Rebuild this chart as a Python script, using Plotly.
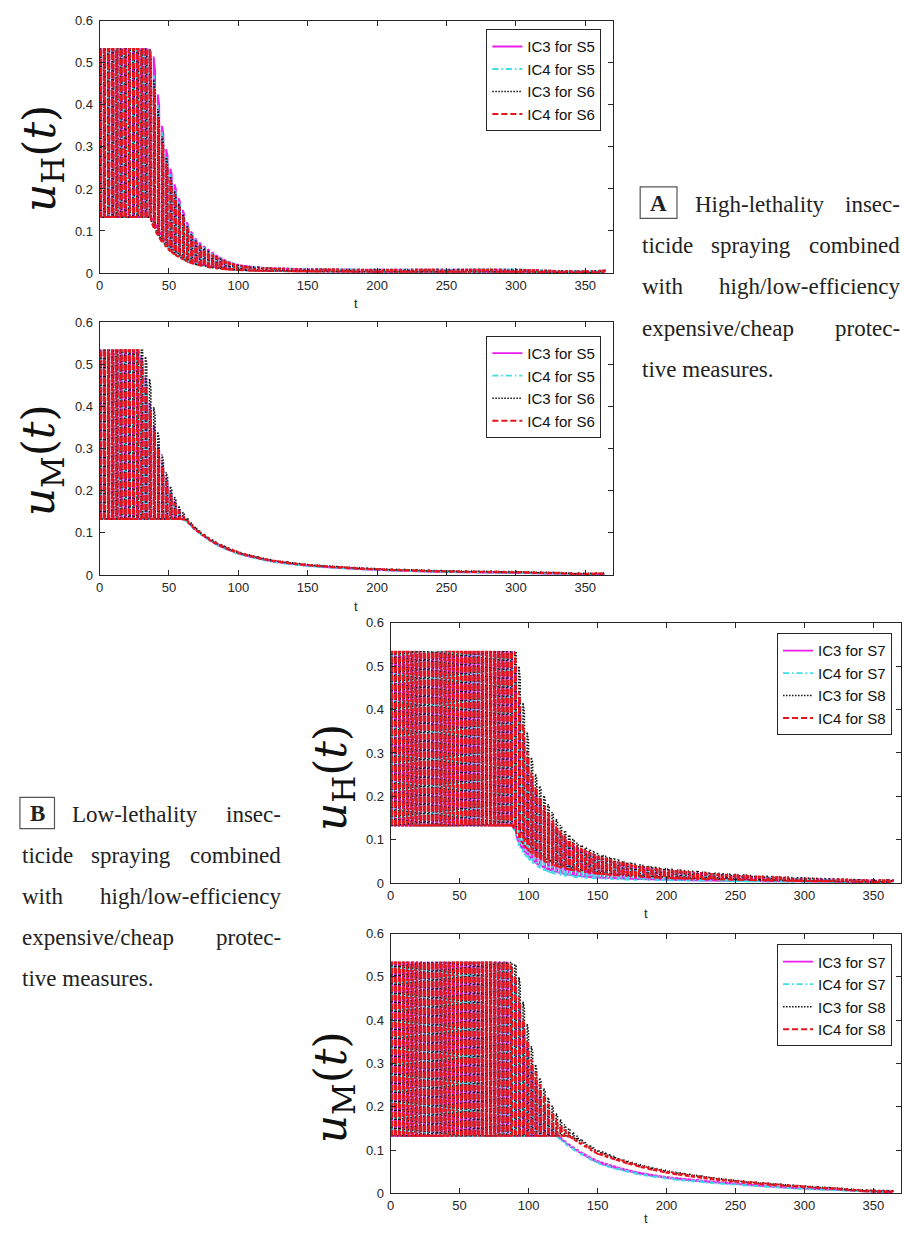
import numpy as np
import plotly.graph_objects as go

# ---------------- values ----------------
T_END = 365.0
PULSE_PERIOD = 3.0
PULSE_ON = 1.0
X_TICKS = [0, 50, 100, 150, 200, 250, 300, 350]
Y_TICKS = [0, 0.1, 0.2, 0.3, 0.4, 0.5, 0.6]
Y_TICK_LABELS = ["0", "0.1", "0.2", "0.3", "0.4", "0.5", "0.6"]

# Panel A-top: u_H(t), S5 / S6  (upper / lower envelope of the pulsed control)
A1_t = [0, 36, 39, 42, 45, 48, 51, 55, 60, 65, 70, 80, 90, 100, 120, 150, 200, 250, 300, 330, 350, 365]
A1_IC3S5_up = [0.533, 0.533, 0.515, 0.425, 0.35, 0.295, 0.248, 0.2, 0.15, 0.105, 0.078, 0.052, 0.031, 0.019, 0.012, 0.009, 0.008, 0.008, 0.008, 0.005, 0.004, 0.006]
A1_IC3S5_lo = [0.133, 0.133, 0.125, 0.105, 0.088, 0.074, 0.062, 0.05, 0.039, 0.03, 0.024, 0.016, 0.011, 0.008, 0.005, 0.004, 0.003, 0.003, 0.003, 0.002, 0.001, 0.002]
A1_IC4S5_up = [0.533, 0.533, 0.47, 0.4, 0.335, 0.28, 0.235, 0.19, 0.143, 0.1, 0.075, 0.048, 0.03, 0.019, 0.012, 0.009, 0.008, 0.008, 0.009, 0.005, 0.004, 0.006]
A1_IC4S5_lo = [0.133, 0.133, 0.115, 0.095, 0.079, 0.066, 0.056, 0.045, 0.035, 0.027, 0.021, 0.014, 0.01, 0.007, 0.005, 0.004, 0.003, 0.003, 0.003, 0.002, 0.001, 0.002]
A1_IC3S6_up = [0.533, 0.533, 0.46, 0.39, 0.325, 0.275, 0.23, 0.185, 0.14, 0.098, 0.073, 0.047, 0.029, 0.018, 0.012, 0.009, 0.008, 0.008, 0.008, 0.005, 0.004, 0.006]
A1_IC3S6_lo = [0.133, 0.133, 0.112, 0.092, 0.077, 0.064, 0.054, 0.044, 0.034, 0.026, 0.02, 0.014, 0.01, 0.007, 0.005, 0.004, 0.003, 0.003, 0.003, 0.002, 0.001, 0.002]
A1_IC4S6_up = [0.533, 0.533, 0.44, 0.37, 0.31, 0.26, 0.22, 0.178, 0.135, 0.095, 0.07, 0.045, 0.028, 0.017, 0.011, 0.009, 0.007, 0.008, 0.008, 0.005, 0.004, 0.006]
A1_IC4S6_lo = [0.133, 0.133, 0.108, 0.089, 0.074, 0.062, 0.052, 0.042, 0.033, 0.025, 0.02, 0.013, 0.009, 0.007, 0.005, 0.004, 0.003, 0.003, 0.003, 0.002, 0.001, 0.002]

# Panel A-bottom: u_M(t), S5 / S6
A2_t = [0, 29, 32, 35, 38, 42, 46, 50, 54, 58, 62, 68, 75, 85, 100, 125, 150, 200, 250, 300, 330, 350, 365]
A2_IC3S5_up = [0.533, 0.533, 0.49, 0.43, 0.37, 0.31, 0.255, 0.21, 0.175, 0.15, 0.134, 0.112, 0.094, 0.073, 0.053, 0.033, 0.023, 0.013, 0.008, 0.006, 0.004, 0.002, 0.003]
A2_IC3S5_lo = [0.133, 0.133, 0.133, 0.133, 0.133, 0.133, 0.133, 0.133, 0.133, 0.133, 0.131, 0.11, 0.092, 0.071, 0.051, 0.032, 0.022, 0.012, 0.007, 0.005, 0.003, 0.002, 0.003]
A2_IC4S5_up = [0.533, 0.533, 0.48, 0.42, 0.36, 0.305, 0.25, 0.205, 0.172, 0.149, 0.133, 0.111, 0.093, 0.072, 0.052, 0.032, 0.022, 0.013, 0.008, 0.006, 0.004, 0.002, 0.003]
A2_IC4S5_lo = [0.133, 0.133, 0.133, 0.133, 0.133, 0.133, 0.133, 0.133, 0.133, 0.133, 0.13, 0.109, 0.091, 0.07, 0.05, 0.031, 0.021, 0.012, 0.007, 0.005, 0.003, 0.002, 0.003]
A2_IC3S6_up = [0.533, 0.533, 0.533, 0.49, 0.42, 0.34, 0.27, 0.22, 0.185, 0.158, 0.14, 0.117, 0.097, 0.076, 0.055, 0.035, 0.025, 0.015, 0.01, 0.008, 0.006, 0.004, 0.005]
A2_IC3S6_lo = [0.133, 0.133, 0.133, 0.133, 0.133, 0.133, 0.133, 0.133, 0.133, 0.133, 0.133, 0.113, 0.094, 0.073, 0.053, 0.034, 0.024, 0.014, 0.009, 0.007, 0.005, 0.003, 0.004]
A2_IC4S6_up = [0.533, 0.533, 0.47, 0.41, 0.355, 0.3, 0.245, 0.2, 0.17, 0.148, 0.134, 0.113, 0.095, 0.074, 0.054, 0.034, 0.024, 0.014, 0.009, 0.007, 0.005, 0.003, 0.004]
A2_IC4S6_lo = [0.133, 0.133, 0.133, 0.133, 0.133, 0.133, 0.133, 0.133, 0.133, 0.133, 0.131, 0.111, 0.093, 0.072, 0.052, 0.033, 0.023, 0.013, 0.008, 0.006, 0.004, 0.002, 0.003]

# Panel B-top: u_H(t), S7 / S8
B1_t = [0, 88, 90, 92, 95, 98, 102, 106, 112, 118, 125, 135, 150, 175, 200, 250, 300, 330, 350, 365]
B1_IC3S7_up = [0.533, 0.533, 0.5, 0.44, 0.365, 0.3, 0.24, 0.2, 0.162, 0.132, 0.106, 0.08, 0.058, 0.039, 0.028, 0.017, 0.01, 0.008, 0.006, 0.006]
B1_IC3S7_lo = [0.133, 0.133, 0.122, 0.1, 0.082, 0.07, 0.056, 0.045, 0.035, 0.028, 0.022, 0.017, 0.013, 0.01, 0.008, 0.005, 0.004, 0.003, 0.002, 0.002]
B1_IC4S7_up = [0.533, 0.533, 0.49, 0.43, 0.355, 0.29, 0.232, 0.193, 0.156, 0.127, 0.102, 0.077, 0.056, 0.038, 0.027, 0.016, 0.01, 0.007, 0.005, 0.006]
B1_IC4S7_lo = [0.133, 0.133, 0.12, 0.093, 0.075, 0.064, 0.05, 0.04, 0.03, 0.023, 0.018, 0.014, 0.011, 0.008, 0.007, 0.005, 0.003, 0.002, 0.002, 0.002]
B1_IC3S8_up = [0.533, 0.533, 0.533, 0.533, 0.44, 0.37, 0.29, 0.24, 0.195, 0.158, 0.125, 0.093, 0.068, 0.045, 0.033, 0.02, 0.012, 0.009, 0.007, 0.008]
B1_IC3S8_lo = [0.133, 0.133, 0.133, 0.13, 0.115, 0.1, 0.085, 0.072, 0.058, 0.048, 0.04, 0.032, 0.025, 0.018, 0.014, 0.009, 0.006, 0.004, 0.003, 0.004]
B1_IC4S8_up = [0.533, 0.533, 0.533, 0.47, 0.39, 0.32, 0.255, 0.212, 0.172, 0.14, 0.112, 0.084, 0.061, 0.041, 0.03, 0.018, 0.011, 0.008, 0.006, 0.007]
B1_IC4S8_lo = [0.133, 0.133, 0.125, 0.11, 0.095, 0.083, 0.07, 0.06, 0.05, 0.042, 0.035, 0.028, 0.022, 0.016, 0.012, 0.008, 0.005, 0.004, 0.003, 0.003]

# Panel B-bottom: u_M(t), S7 / S8
B2_t = [0, 86, 89, 92, 95, 98, 102, 106, 110, 115, 120, 125, 130, 140, 150, 165, 180, 200, 225, 250, 275, 300, 325, 350, 365]
B2_IC3S7_up = [0.533, 0.533, 0.505, 0.455, 0.405, 0.355, 0.295, 0.245, 0.205, 0.168, 0.14, 0.124, 0.112, 0.092, 0.075, 0.06, 0.048, 0.038, 0.03, 0.023, 0.017, 0.012, 0.009, 0.005, 0.004]
B2_IC3S7_lo = [0.133, 0.133, 0.133, 0.133, 0.133, 0.133, 0.133, 0.133, 0.133, 0.133, 0.133, 0.122, 0.109, 0.089, 0.072, 0.057, 0.046, 0.036, 0.028, 0.022, 0.016, 0.011, 0.008, 0.004, 0.003]
B2_IC4S7_up = [0.533, 0.533, 0.5, 0.45, 0.4, 0.35, 0.29, 0.24, 0.2, 0.165, 0.137, 0.121, 0.109, 0.089, 0.072, 0.057, 0.046, 0.036, 0.028, 0.021, 0.016, 0.011, 0.008, 0.004, 0.004]
B2_IC4S7_lo = [0.133, 0.133, 0.133, 0.133, 0.133, 0.133, 0.133, 0.133, 0.133, 0.133, 0.133, 0.119, 0.106, 0.087, 0.07, 0.055, 0.044, 0.034, 0.026, 0.02, 0.015, 0.01, 0.007, 0.004, 0.003]
B2_IC3S8_up = [0.533, 0.533, 0.533, 0.52, 0.46, 0.41, 0.34, 0.285, 0.25, 0.215, 0.185, 0.162, 0.147, 0.12, 0.1, 0.082, 0.067, 0.053, 0.04, 0.03, 0.023, 0.017, 0.012, 0.007, 0.006]
B2_IC3S8_lo = [0.133, 0.133, 0.133, 0.133, 0.133, 0.133, 0.133, 0.133, 0.133, 0.133, 0.133, 0.133, 0.133, 0.117, 0.097, 0.08, 0.065, 0.051, 0.039, 0.029, 0.022, 0.016, 0.011, 0.005, 0.004]
B2_IC4S8_up = [0.533, 0.533, 0.52, 0.47, 0.42, 0.37, 0.31, 0.27, 0.235, 0.2, 0.17, 0.15, 0.136, 0.113, 0.095, 0.078, 0.064, 0.05, 0.038, 0.029, 0.022, 0.016, 0.011, 0.006, 0.005]
B2_IC4S8_lo = [0.133, 0.133, 0.133, 0.133, 0.133, 0.133, 0.133, 0.133, 0.133, 0.133, 0.133, 0.133, 0.131, 0.11, 0.092, 0.076, 0.062, 0.048, 0.036, 0.027, 0.02, 0.015, 0.01, 0.004, 0.003]

LEGEND_A = ["IC3 for S5", "IC4 for S5", "IC3 for S6", "IC4 for S6"]
LEGEND_B = ["IC3 for S7", "IC4 for S7", "IC3 for S8", "IC4 for S8"]

TEXT_A = ["A", "High-lethality", "insec-", "ticide", "spraying", "combined", "with",
          "high/low-efficiency", "expensive/cheap", "protec-", "tive measures."]
TEXT_B = ["B", "Low-lethality", "insec-", "ticide", "spraying", "combined", "with",
          "high/low-efficiency", "expensive/cheap", "protec-", "tive measures."]

# ---------------- styles / geometry ----------------
W, H = 904, 1234
STYLES = [
    dict(color="#ec1cec", width=1.8, dash="solid"),
    dict(color="#3fdbe6", width=1.8, dash="6px,3px,1.5px,3px"),
    dict(color="#111111", width=1.6, dash="1.5px,1.5px"),
    dict(color="#e8141c", width=2.0, dash="6px,3px"),
]
# panel boxes in pixels: (left, right, top, bottom)
PANELS = [
    (96, 611.7, 14, 269.3),
    (96, 611.7, 319, 575),
    (388.3, 901, 623.3, 887),
    (388.3, 901, 938, 1201),
]
AX_COL = "#262626"


def fx(px):
    return px / W


def fy(py):
    return 1 - py / H


def envelope(t, knots, vals):
    return float(np.exp(np.interp(t, knots, np.log(vals))))


def pulse_train(knots, up, lo):
    xs, ys = [], []
    for t0 in np.arange(0.0, T_END + 1e-9, PULSE_PERIOD):
        t1 = min(t0 + PULSE_ON, T_END)
        xs += [t0, t0, t1, t1]
        ys += [envelope(t0, knots, lo), envelope(t0, knots, up),
               envelope(t1, knots, up), envelope(t1, knots, lo)]
    return xs, ys


panel_data = [
    (A1_t, [(A1_IC3S5_up, A1_IC3S5_lo), (A1_IC4S5_up, A1_IC4S5_lo),
            (A1_IC3S6_up, A1_IC3S6_lo), (A1_IC4S6_up, A1_IC4S6_lo)], LEGEND_A),
    (A2_t, [(A2_IC3S5_up, A2_IC3S5_lo), (A2_IC4S5_up, A2_IC4S5_lo),
            (A2_IC3S6_up, A2_IC3S6_lo), (A2_IC4S6_up, A2_IC4S6_lo)], LEGEND_A),
    (B1_t, [(B1_IC3S7_up, B1_IC3S7_lo), (B1_IC4S7_up, B1_IC4S7_lo),
            (B1_IC3S8_up, B1_IC3S8_lo), (B1_IC4S8_up, B1_IC4S8_lo)], LEGEND_B),
    (B2_t, [(B2_IC3S7_up, B2_IC3S7_lo), (B2_IC4S7_up, B2_IC4S7_lo),
            (B2_IC3S8_up, B2_IC3S8_lo), (B2_IC4S8_up, B2_IC4S8_lo)], LEGEND_B),
]

fig = go.Figure()
layout = dict(
    width=W, height=H, autosize=False,
    margin=dict(l=0, r=0, t=0, b=0, pad=0),
    paper_bgcolor="white", plot_bgcolor="white",
    showlegend=True,
)

legend_pos = [(600, 22.5), (600, 333), (892, 634), (892, 949)]

for i, (knots, series, names) in enumerate(panel_data):
    n = i + 1
    xa = "x" if n == 1 else f"x{n}"
    ya = "y" if n == 1 else f"y{n}"
    lg = "legend" if n == 1 else f"legend{n}"
    for (up, lo), name, st in zip(series, names, STYLES):
        xs, ys = pulse_train(knots, up, lo)
        fig.add_trace(go.Scatter(x=xs, y=ys, mode="lines", name=name,
                                 line=st, xaxis=xa, yaxis=ya, legend=lg,
                                 hoverinfo="skip"))
    l, r, t, b = PANELS[i]
    axis_common = dict(showline=True, linecolor=AX_COL, linewidth=1, mirror="ticks",
                       ticks="inside", ticklen=5, tickcolor=AX_COL, tickwidth=1,
                       showgrid=False, zeroline=False,
                       tickfont=dict(family="Liberation Sans, Arial", size=13, color=AX_COL))
    layout["xaxis" if n == 1 else f"xaxis{n}"] = dict(
        domain=[fx(l), fx(r)], anchor=ya, range=[0, 370],
        tickvals=X_TICKS, ticktext=[str(v) for v in X_TICKS], **axis_common)
    layout["yaxis" if n == 1 else f"yaxis{n}"] = dict(
        domain=[fy(b), fy(t)], anchor=xa, range=[0, 0.6],
        tickvals=Y_TICKS, ticktext=Y_TICK_LABELS, ticklabelstandoff=3, **axis_common)
    lx, ly = legend_pos[i]
    layout[lg] = dict(x=fx(lx), y=fy(ly), xanchor="right", yanchor="top",
                      xref="paper", yref="paper",
                      bgcolor="white", bordercolor=AX_COL, borderwidth=1,
                      font=dict(family="Liberation Sans, Arial", size=15, color="#111111"),
                      tracegroupgap=0, itemwidth=30)

fig.update_layout(**layout)

ann = []
# axis titles
ylabels = ["<i>u</i><sub>H</sub>(<i>t</i>)", "<i>u</i><sub>M</sub>(<i>t</i>)",
           "<i>u</i><sub>H</sub>(<i>t</i>)", "<i>u</i><sub>M</sub>(<i>t</i>)"]
ylab_pos = [(38, 153), (38, 459), (331, 780), (331, 1094)]
xlab_pos = [(353.8, 300), (353.8, 607), (644.6, 918), (644.6, 1226)]
for lab, (px, py) in zip(ylabels, ylab_pos):
    ann.append(dict(x=fx(px), y=fy(py), xref="paper", yref="paper", text=lab,
                    textangle=-90, showarrow=False, xanchor="center", yanchor="middle",
                    font=dict(family="DejaVu Serif", size=44, color="#111111")))
for (px, py) in xlab_pos:
    ann.append(dict(x=fx(px), y=fy(py), xref="paper", yref="paper", text="t",
                    showarrow=False, xanchor="center", yanchor="middle",
                    font=dict(family="Liberation Sans, Arial", size=13, color=AX_COL)))

# caption blocks (justified by hand: word, anchor x, anchor side, line)
TFONT = dict(family="Liberation Serif", size=23, color="#222222")


def caption(words, left, right, top_line_y, box_right):
    lines_y = [top_line_y + k * 41.7 for k in range(5)]
    mid = 0.5 * (left + right) - 20
    placement = [
        (words[1], box_right + 16, "left", 0), (words[2], right, "right", 0),
        (words[3], left, "left", 1), (words[4], mid, "center", 1), (words[5], right, "right", 1),
        (words[6], left, "left", 2), (words[7], right, "right", 2),
        (words[8], left, "left", 3), (words[9], right, "right", 3),
        (words[10], left, "left", 4),
    ]
    out = []
    for wtxt, xpx, anc, li in placement:
        out.append(dict(x=fx(xpx), y=fy(lines_y[li]), xref="paper", yref="paper",
                        text=wtxt, showarrow=False, xanchor=anc, yanchor="middle",
                        font=TFONT))
    out.append(dict(x=fx(0.5 * (left + box_right)), y=fy(lines_y[0] - 1), xref="paper",
                    yref="paper", text="<b>" + words[0] + "</b>", showarrow=False,
                    xanchor="center", yanchor="middle", font=TFONT))
    return out


ann += caption(TEXT_A, 639, 902, 200, 676)
ann += caption(TEXT_B, 16, 280, 817, 50.7)
fig.update_layout(annotations=ann)

shapes = [
    dict(type="rect", xref="paper", yref="paper", x0=fx(639), x1=fx(676),
         y0=fy(214), y1=fy(182), line=dict(color="#555555", width=1.2)),
    dict(type="rect", xref="paper", yref="paper", x0=fx(16), x1=fx(50.7),
         y0=fy(831.7), y1=fy(800), line=dict(color="#555555", width=1.2)),
]
fig.update_layout(shapes=shapes)

fig.write_html(
    "out.html",
    config={"displayModeBar": False},
    post_script="document.body.style.margin='0';document.body.style.overflow='hidden';",
)
